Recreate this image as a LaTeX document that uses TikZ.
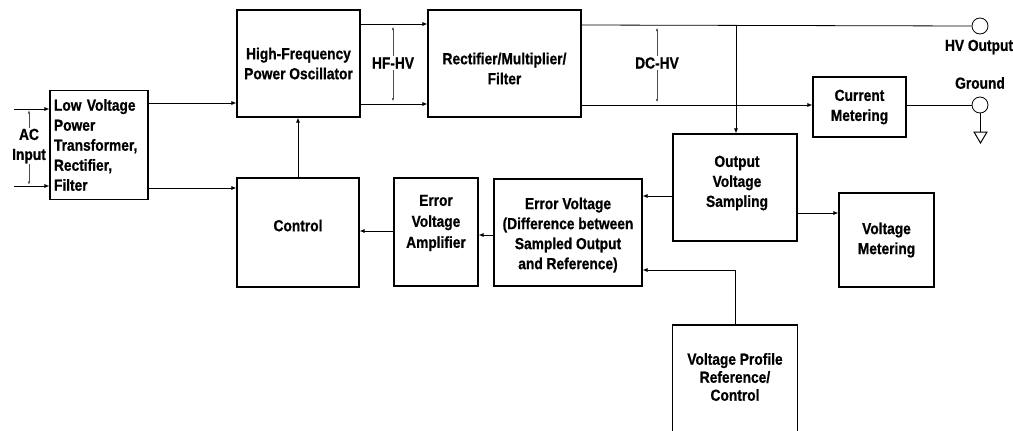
\documentclass[tikz,border=0pt]{standalone}
\usepackage{fontspec}
\setmainfont{Liberation Sans}[FakeStretch=0.86, BoldFeatures={FakeBold=0.8}]
\usetikzlibrary{arrows.meta}
\begin{document}
\begin{tikzpicture}[x=1pt,y=-1pt,
  box/.style={draw, line width=1.1pt, inner sep=0pt, align=center,
    font=\bfseries\fontsize{16}{20}\selectfont},
  txt/.style={inner sep=0pt, align=center, font=\bfseries\fontsize{16}{20}\selectfont},
  wire/.style={line width=0.8pt},
  arr/.style={wire, -{Latex[length=5pt,width=4pt]}},
  dim/.style={line width=0.4pt, black!70, -{Latex[length=3pt,width=2.5pt]}},
  lab/.style={font=\bfseries\fontsize{16}{20}\selectfont, inner sep=1pt, align=center},
  term/.style={draw, circle, line width=0.8pt, minimum size=16pt, inner sep=0pt}]
\useasboundingbox (0,0) rectangle (1013,431);
\fill[white] (0,0) rectangle (1013,431);

% boxes
\node[box, minimum width=98pt, minimum height=109pt, text width=90pt, align=left] (LV) at (99,145)
  {Low Voltage\\Power\\Transformer,\\Rectifier,\\Filter};
\node[box, minimum width=123pt, minimum height=107pt] (HF) at (298.5,63.5)
  {High-Frequency\\Power Oscillator};
\node[box, minimum width=153pt, minimum height=107pt] (RM) at (504.5,63.5) {};
\node[txt] (RMt) at ([yshift=-5pt]RM.center) {Rectifier/Multiplier/\\Filter};
\node[box, minimum width=93pt, minimum height=60pt] (CM) at (859.5,107)
  {Current\\Metering};
\node[box, minimum width=124pt, minimum height=107pt] (OVS) at (735,187.5) {};
\node[txt] (OVSt) at ([yshift=4.5pt,xshift=2pt]OVS.center) {Output\\Voltage\\Sampling};
\node[box, minimum width=95pt, minimum height=94pt] (VM) at (886.5,240)
  {Voltage\\Metering};
\node[box, minimum width=148pt, minimum height=107pt] (EV) at (568,232.5) {};
\node[txt] (EVt) at ([yshift=-2.5pt]EV.center) {Error Voltage\\(Difference between\\Sampled Output\\and Reference)};
\node[box, minimum width=84pt, minimum height=108pt] (EVA) at (436,232) {};
\node[txt, font=\bfseries\fontsize{16}{21}\selectfont] (EVAt) at ([yshift=9pt]EVA.center) {Error\\Voltage\\Amplifier};
\node[box, minimum width=122pt, minimum height=109pt] (CT) at (298,232.5) {};
\node[txt] (CTt) at ([yshift=7pt]CT.center) {Control};
\node[minimum width=124pt, minimum height=110pt, inner sep=0pt, anchor=north] (VP) at (735,325) {};
\node[txt, font=\bfseries\fontsize{16}{18}\selectfont] (VPt) at (735,377) {Voltage Profile\\Reference/\\Control};
\draw[line width=1.1pt] (VP.south west) -- (VP.north west) -- (VP.north east) -- (VP.south east);

% terminals
\node[term] (HVO) at (980,26) {};
\node[lab] (HVOl) at (979,47) {HV Output};
\node[term] (GND) at (980,105) {};
\node[lab] (GNDl) at (980,83) {Ground};
\coordinate (gt) at (980,132);
\draw[wire] (GND.south) -- (gt);
\draw[line width=1pt] (974,132) -- (987,132) -- (980.5,143) -- cycle;

% level coordinates
\coordinate (y24) at (0,24);
\coordinate (y104) at (0,104);
\coordinate (y25) at (0,25);
\coordinate (y105) at (0,105);
\coordinate (y103) at (0,103);
\coordinate (y188) at (0,188);
\coordinate (y196) at (0,196);
\coordinate (y213) at (0,213);
\coordinate (y231) at (0,231);
\coordinate (y235) at (0,235);
\coordinate (y270) at (0,270);

% AC input
\coordinate (ac1) at (14,109);
\coordinate (ac2) at (14,186);
\draw[arr] (ac1) -- (ac1 -| LV.west);
\draw[arr] (ac2) -- (ac2 -| LV.west);
\node[lab] (AC) at (29,146) {AC\\Input};
\draw[dim] (AC.north) -- (29,110.5);
\draw[dim] (AC.south) -- (29,184.5);

% LV outputs
\draw[arr] (LV.east |- y103) -- (HF.west |- y103);
\draw[arr] (LV.east |- y188) -- (CT.west |- y188);

% HF -> RM
\draw[arr] (HF.east |- y24) -- (RM.west |- y24);
\draw[arr] (HF.east |- y104) -- (RM.west |- y104);
\node[lab] (HFHV) at (393,63) {HF-HV};
\draw[dim] (HFHV.north) -- (393,27);
\draw[dim] (HFHV.south) -- (393,101);

% DC-HV
\coordinate (j1) at (736,25);
\coordinate (j2) at (736,105);
\draw[wire] (RM.east |- y25) -- (HVO.west);
\draw[wire] (RM.east |- y105) -- (j2);
\draw[arr] (j1) -- (j1 |- OVS.north);
\draw[arr] (j2) -- (CM.west |- j2);
\draw[wire] (CM.east |- y105) -- (GND.west);
\node[lab] (DCHV) at (657,63) {DC-HV};
\draw[dim] (DCHV.north) -- (657,28);
\draw[dim] (DCHV.south) -- (657,102);

% feedback
\draw[arr] (OVS.west |- y196) -- (EV.east |- y196);
\draw[arr] (OVS.east |- y213) -- (VM.west |- y213);
\draw[arr] (VP.north) -- (VP.north |- y270) -- (EV.east |- y270);
\draw[arr] (EV.west |- y235) -- (EVA.east |- y235);
\draw[arr] (EVA.west |- y231) -- (CT.east |- y231);
\draw[arr] (CT.north) -- (CT.north |- HF.south);
\end{tikzpicture}
\end{document}
